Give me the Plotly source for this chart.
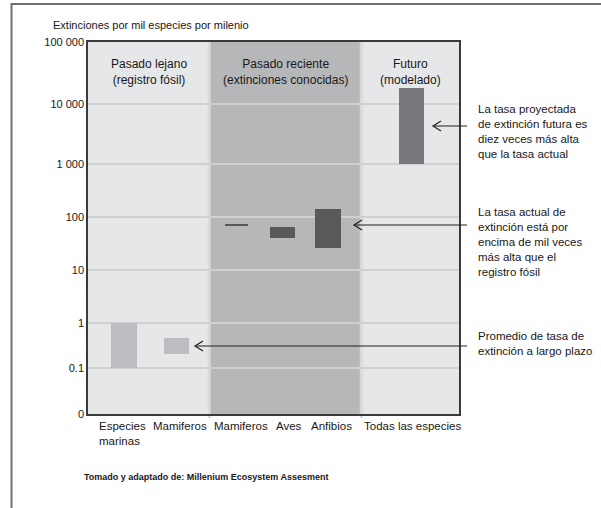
import math
import plotly.graph_objects as go

# ---- data -------------------------------------------------------------
categories = ["Especies<br>marinas", "Mamiferos", "Mamiferos", "Aves", "Anfibios",
              "Todas las especies"]
rate_low = [0.1, 0.21, 69, 40, 26, 1000]      # extinctions per 1000 species per millennium
rate_high = [1.0, 0.46, 73, 65, 140, 18000]
tick_values = [0, 0.1, 1, 10, 100, 1000, 10000, 100000]
tick_labels = ["0", "0.1", "1", "10", "100", "1 000", "10 000", "100 000"]
panel_titles = ["Pasado lejano<br>(registro fósil)",
                "Pasado reciente<br>(extinciones conocidas)",
                "Futuro<br>(modelado)"]
notes = ["La tasa proyectada<br>de extinción futura es<br>diez veces más alta<br>que la tasa actual",
         "La tasa actual de<br>extinción está por<br>encima de mil veces<br>más alta que el<br>registro fósil",
         "Promedio de tasa de<br>extinción a largo plazo"]

# ---- layout constants -------------------------------------------------
W, H = 601, 508
PL, PR, PT, PB = 88, 459, 42, 414          # plot area in pixels
TICK_POS = [0, 46, 91, 144, 197, 250, 310, 372]   # schematic axis: position of each tick
X_POS = [0.58, 1.43, 2.40, 3.15, 3.88, 5.23]
LABEL_POS = [0.55, 1.48, 2.48, 3.25, 3.93, 5.25]
BAR_W = [0.42, 0.40, 0.37, 0.40, 0.42, 0.41]
PANEL_EDGES = [0, 1.96, 4.42, 6.0]
PANEL_COLORS = ["#e6e7e8", "#b6b7b9", "#e6e7e8"]
BAR_COLORS = ["#bcbdc0", "#bcbdc0", "#58595b", "#58595b", "#58595b", "#77787b"]
TXT = "#1a1718"
FONT = "Liberation Sans, Arial, sans-serif"


def scale(v):
    """Map a rate onto the schematic axis (log between ticks, 0 at the bottom)."""
    for i in range(1, len(tick_values) - 1):
        lo, hi = tick_values[i], tick_values[i + 1]
        if v <= hi or i == len(tick_values) - 2:
            f = (math.log10(v) - math.log10(lo)) / (math.log10(hi) - math.log10(lo))
            return TICK_POS[i] + f * (TICK_POS[i + 1] - TICK_POS[i])
    return 0


def px(x):
    return (x - PL) / (PR - PL)


def py(y):
    return (PB - y) / (PB - PT)


base = [scale(v) for v in rate_low]
top = [scale(v) for v in rate_high]

fig = go.Figure()
fig.add_trace(go.Bar(
    x=X_POS, y=[t - b for t, b in zip(top, base)], base=base, width=BAR_W,
    marker=dict(color=BAR_COLORS, line=dict(width=0)), hoverinfo="skip",
))

shapes = []
# panel backgrounds
for i in range(3):
    shapes.append(dict(type="rect", xref="x", yref="paper", x0=PANEL_EDGES[i], x1=PANEL_EDGES[i + 1],
                       y0=0, y1=1, fillcolor=PANEL_COLORS[i], line=dict(width=0), layer="below"))
# light separators between panels
for e in PANEL_EDGES[1:3]:
    shapes.append(dict(type="line", xref="x", yref="paper", x0=e, x1=e, y0=py(418), y1=1,
                       line=dict(color="#d9dadc", width=3), layer="between"))
# outer frame (top and left)
shapes.append(dict(type="line", xref="paper", yref="paper", x0=px(11), x1=px(601), y0=py(4), y1=py(4),
                   line=dict(color="#6d6e70", width=2)))
shapes.append(dict(type="line", xref="paper", yref="paper", x0=px(11.5), x1=px(11.5), y0=py(3), y1=py(509),
                   line=dict(color="#6d6e70", width=2)))

# arrows: (tail x, head x, y) in pixels
arrows = [(467, 433, 126), (467, 354, 225), (467, 195, 346)]
for x0, x1, y in arrows:
    shapes.append(dict(type="line", xref="paper", yref="paper", x0=px(x0), x1=px(x1), y0=py(y), y1=py(y),
                       line=dict(color="#231f20", width=1.2)))
    shapes.append(dict(type="path", xref="paper", yref="paper",
                       path=f"M {px(x1 + 8)} {py(y - 5)} L {px(x1)} {py(y)} L {px(x1 + 8)} {py(y + 5)}",
                       line=dict(color="#231f20", width=1.2)))

annotations = []
annotations.append(dict(text="Extinciones por mil especies por milenio", xref="paper", yref="paper",
                        x=px(51), y=py(25), xanchor="left", yanchor="middle", showarrow=False,
                        font=dict(size=11, color=TXT, family=FONT)))
for i, t in enumerate(panel_titles):
    annotations.append(dict(text=t, xref="x", yref="paper",
                            x=(PANEL_EDGES[i] + PANEL_EDGES[i + 1]) / 2, y=py(72),
                            xanchor="center", yanchor="middle", showarrow=False,
                            font=dict(size=12, color=TXT, family=FONT)))
for cat, xp in zip(categories, LABEL_POS):
    annotations.append(dict(text=cat, xref="x", yref="paper", x=xp, y=py(418),
                            xanchor="center", yanchor="top", align="left", showarrow=False,
                            font=dict(size=11.5, color=TXT, family=FONT)))
note_y = [131, 242, 343]
for t, yy in zip(notes, note_y):
    annotations.append(dict(text=t, xref="paper", yref="paper", x=px(476), y=py(yy),
                            xanchor="left", yanchor="middle", align="left", showarrow=False,
                            font=dict(size=11.5, color=TXT, family=FONT)))
annotations.append(dict(text="<b>Tomado y adaptado de: Millenium Ecosystem Assesment</b>",
                        xref="paper", yref="paper", x=px(82), y=py(477), xanchor="left",
                        yanchor="middle", showarrow=False,
                        font=dict(size=9, color=TXT, family=FONT)))

fig.update_layout(
    width=W, height=H, margin=dict(l=PL, r=W - PR, t=PT, b=H - PB, pad=0),
    paper_bgcolor="white", plot_bgcolor=PANEL_COLORS[0],
    showlegend=False, bargap=0, shapes=shapes, annotations=annotations,
    xaxis=dict(range=[PANEL_EDGES[0], PANEL_EDGES[-1]], showgrid=False, zeroline=False,
               showticklabels=False, ticks="", showline=True, mirror=True,
               linecolor="#3a3a3c", linewidth=1.5, fixedrange=True),
    yaxis=dict(range=[TICK_POS[0], TICK_POS[-1]], tickvals=TICK_POS, ticktext=tick_labels,
               showgrid=True, gridcolor="#cfd0d2", gridwidth=1.5, zeroline=False,
               ticks="", showline=True, mirror=True, linecolor="#3a3a3c", linewidth=1.5,
               tickfont=dict(size=11, color=TXT, family=FONT), fixedrange=True),
)

fig.write_html("out.html")
